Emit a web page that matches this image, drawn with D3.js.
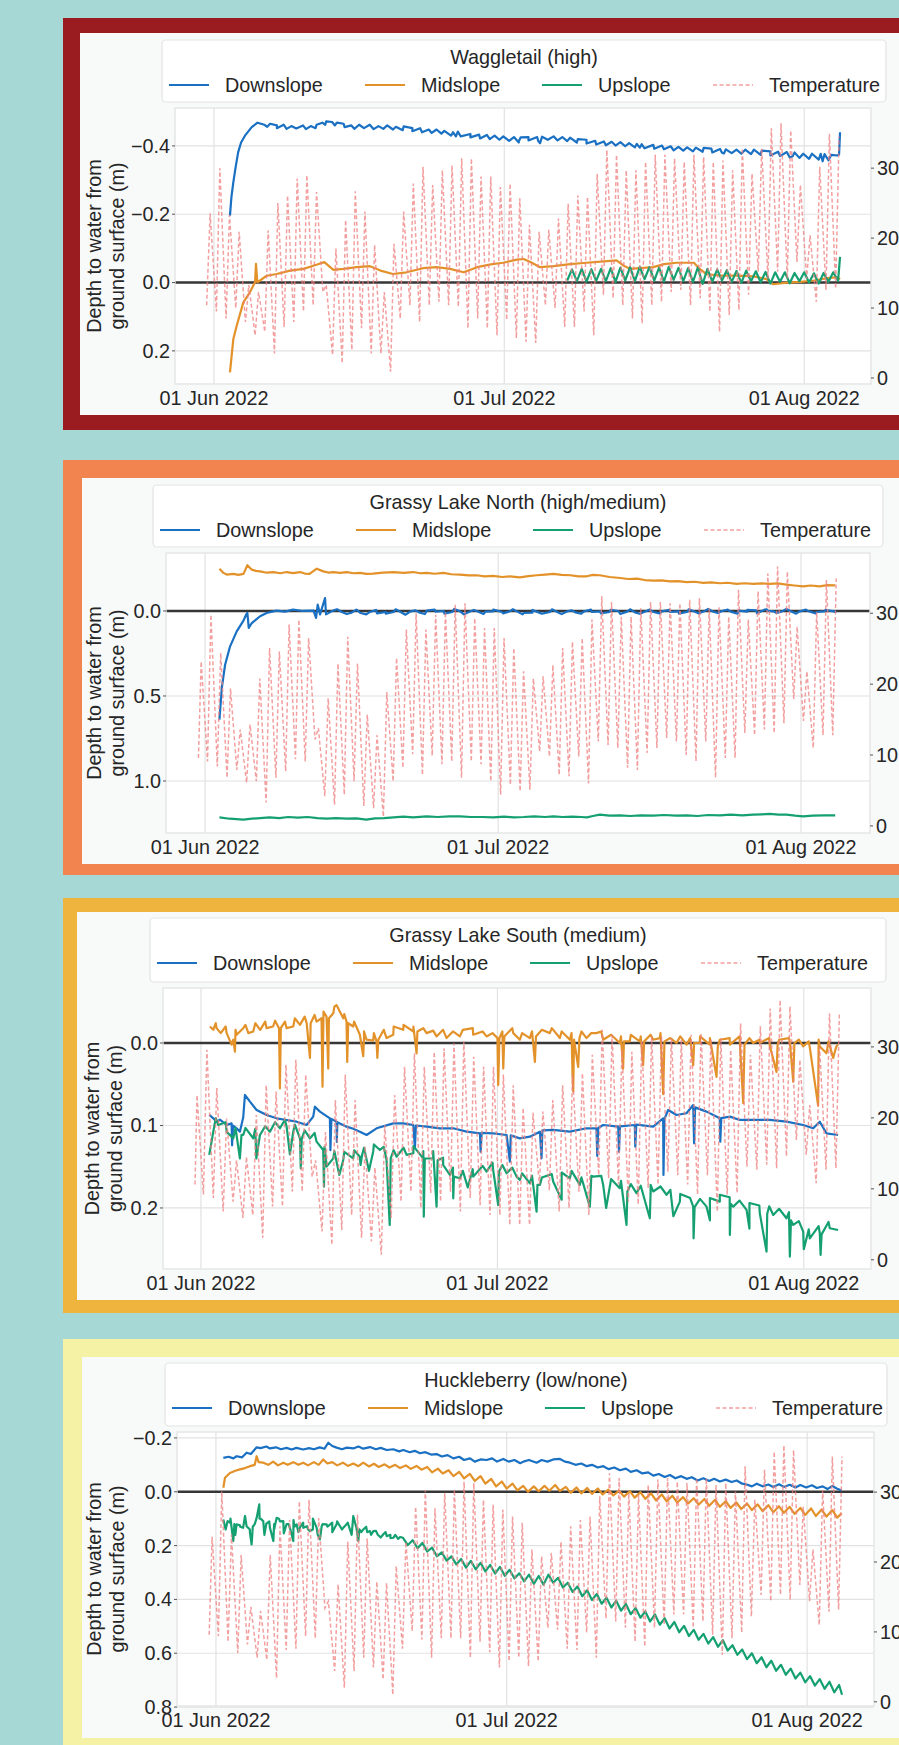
<!DOCTYPE html>
<html>
<head>
<meta charset="utf-8">
<script src="https://cdn.jsdelivr.net/npm/d3@7"></script>
<style>
  html, body { margin: 0; padding: 0; background: #a6d9d5; }
  svg { display: block; font-family: "Liberation Sans", Arial, sans-serif; }
</style>
</head>
<body>
<div id="chart"></div>
<script>
// ---- labels / ticks
var siteTitles = ["Waggletail (high)", "Grassy Lake North (high/medium)",
    "Grassy Lake South (medium)", "Huckleberry (low/none)"];
var seriesNames = ["Downslope", "Midslope", "Upslope", "Temperature"];
var seriesColors = ["#1a70c2", "#e3922a", "#15a072", "#ef7f7f"];
var xTickDates = ["2022-06-01", "2022-07-01", "2022-08-01"];
var depthTicks = [[-0.4, -0.2, 0.0, 0.2], [0.0, 0.5, 1.0], [0.0, 0.1, 0.2], [-0.2, 0.0, 0.2, 0.4, 0.6, 0.8]];
var tempTicks = [0, 10, 20, 30];
var yTitle = ["Depth to water from", "ground surface (m)"];

// ---- data: time = days after 01 Jun 2022, depth in m, temperature in deg C
// Waggletail
var wagDown = [[1.65,-0.196],[1.8,-0.25],[2.0,-0.294],[2.25,-0.34],[2.5,-0.382],[2.8,-0.41],[3.2,-0.43],[3.9,-0.455],[4.5,-0.468],[5.2,-0.462],[5.8,-0.465],[6.5,-0.46],[7.2,-0.462],[8.0,-0.458],[9.2,-0.46],[10.0,-0.458],[10.6,-0.462],[11.2,-0.468],[11.6,-0.472],[12.2,-0.47],[12.7,-0.468],[13.4,-0.465],[14.2,-0.46],[15.0,-0.462],[16.1,-0.462],[17.0,-0.458],[17.9,-0.46],[18.8,-0.456],[19.6,-0.457],[20.5,-0.452],[21.3,-0.452],[22.2,-0.448],[23.0,-0.448],[23.8,-0.444],[24.7,-0.44],[25.0,-0.428],[25.2,-0.442],[26.5,-0.435],[27.4,-0.433],[28.2,-0.432],[29.0,-0.43],[29.9,-0.428],[31.0,-0.426],[31.5,-0.41],[31.7,-0.425],[32.5,-0.426],[33.4,-0.426],[33.7,-0.408],[33.9,-0.427],[35.1,-0.428],[36.0,-0.426],[36.8,-0.424],[37.6,-0.42],[38.5,-0.418],[39.4,-0.415],[40.3,-0.413],[41.1,-0.412],[42.0,-0.411],[42.9,-0.408],[43.7,-0.406],[44.0,-0.395],[44.2,-0.405],[45.4,-0.403],[46.3,-0.401],[47.2,-0.399],[48.0,-0.397],[48.9,-0.396],[49.8,-0.395],[50.6,-0.394],[51.4,-0.392],[52.3,-0.391],[52.7,-0.378],[52.9,-0.39],[54.0,-0.389],[54.9,-0.389],[55.8,-0.389],[56.6,-0.386],[57.5,-0.384],[58.3,-0.383],[59.2,-0.382],[59.8,-0.37],[60.0,-0.381],[60.9,-0.377],[61.8,-0.377],[62.7,-0.377],[62.9,-0.355],[63.1,-0.376],[63.8,-0.374],[64.4,-0.372],[64.6,-0.375],[64.7,-0.44]];
var wagDownDips = [-0.456,-0.452,-0.45,-0.451,-0.449,-0.452,-0.462,-0.46,-0.455,-0.45,-0.452,-0.449,-0.45,-0.448,-0.446,-0.443,-0.44,-0.438,-0.436,-0.43,-0.428,-0.425,-0.422,-0.42,-0.418,-0.415,-0.414,-0.416,-0.415,-0.418,-0.416,-0.414,-0.41,-0.407,-0.404,-0.402,-0.401,-0.399,-0.396,-0.393,-0.392,-0.39,-0.387,-0.386,-0.384,-0.383,-0.381,-0.38,-0.379,-0.377,-0.376,-0.374,-0.372,-0.37,-0.366,-0.365,-0.362,-0.36,-0.358];
var wagMid = [[1.65,0.263],[2.0,0.165],[2.34,0.127],[3.03,0.058],[3.72,0.028],[4.24,-0.001],[4.34,-0.055],[4.48,-0.001],[4.76,-0.006],[5.45,-0.02],[6.48,-0.025],[7.86,-0.035],[9.24,-0.04],[10.6,-0.052],[11.4,-0.06],[12.34,-0.037],[13.37,-0.04],[14.75,-0.045],[16.13,-0.048],[17.2,-0.035],[18.5,-0.025],[19.9,-0.03],[21.6,-0.042],[23.0,-0.045],[24.4,-0.04],[25.8,-0.03],[27.2,-0.045],[28.6,-0.053],[29.9,-0.058],[31.3,-0.067],[32.0,-0.069],[32.7,-0.06],[33.7,-0.045],[35.1,-0.048],[36.8,-0.054],[38.5,-0.058],[40.3,-0.062],[41.6,-0.065],[42.3,-0.05],[43.0,-0.04],[44.0,-0.042],[45.4,-0.045],[46.5,-0.054],[47.8,-0.058],[49.6,-0.058],[50.2,-0.04],[50.9,-0.025],[52.3,-0.02],[54.0,-0.02],[55.8,-0.018],[57.1,-0.01],[57.8,0.005],[59.2,0.0],[60.6,-0.002],[62.0,-0.006],[63.4,-0.013],[64.4,-0.016],[64.7,-0.01]];
var wagUpDip = [-0.006,-0.004,-0.003,-0.005,-0.004,-0.002,-0.006,-0.004,-0.01,-0.006,-0.003,-0.008,-0.004,-0.002,0.004,-0.003,-0.006,-0.002,0.001,-0.004,-0.001,0.003,-0.002,0.002,-0.004,0.0,0.003,-0.002,-0.005];
var wagUpRise = [-0.038,-0.04,-0.039,-0.04,-0.042,-0.044,-0.045,-0.046,-0.045,-0.044,-0.046,-0.043,-0.042,-0.044,-0.04,-0.038,-0.036,-0.034,-0.035,-0.033,-0.031,-0.03,-0.03,-0.028,-0.03,-0.027,-0.028,-0.03];
var wagUpEnd = [[64.7,-0.075]];
var wagTempStart = [[-0.76,10.4]];
var wagTempMax = [23.5,30.0,23.3,20.9,13.3,12.3,21.1,25.0,26.1,28.5,29.0,26.6,13.3,18.5,22.6,26.7,23.8,19.0,12.3,19.2,23.8,27.8,30.2,27.6,29.7,30.4,31.4,31.4,28.8,28.8,27.3,27.8,25.7,21.9,20.9,21.2,22.8,24.9,26.1,25.9,29.2,32.6,31.9,29.7,29.7,30.9,31.9,31.9,31.4,30.9,31.9,31.6,30.9,31.1,29.7,32.8,29.2,32.8,35.7,36.4,35.4,27.6,20.4,30.2,34.9,34.5];
var wagTempMin = [9.5,8.5,10.0,8.0,6.1,6.6,3.5,7.3,8.0,9.5,10.4,12.3,3.3,2.1,4.0,7.1,3.5,3.5,0.9,8.5,10.4,8.0,10.4,10.9,10.4,10.2,7.1,8.5,7.1,6.1,8.3,5.7,5.2,5.0,10.4,10.0,7.3,7.3,9.5,6.1,11.9,11.4,10.4,8.5,7.8,10.4,10.9,12.3,12.6,10.4,11.4,9.5,6.6,9.0,9.7,11.9,15.2,14.2,15.2,14.2,16.6,14.2,10.9,12.6,12.8];

// Grassy Lake North
var glnDown = [[1.47,0.639],[1.71,0.453],[2.05,0.316],[2.56,0.208],[3.24,0.12],[3.93,0.057],[4.2,0.022],[4.33,0.012],[4.47,0.1],[4.78,0.071],[5.63,0.031],[6.3,0.012],[7.3,-0.002],[8.2,0.004],[9.0,-0.008],[10.0,0.0],[11.1,-0.002],[11.36,0.041],[11.53,-0.037],[11.77,0.02],[12.28,-0.076],[12.38,0.02],[13.1,-0.002],[14.0,0.006],[15.0,0.01],[15.9,0.012],[16.8,0.008],[17.6,0.014],[18.5,0.006],[19.3,0.006],[20.2,0.012],[21.0,0.004],[21.9,0.008],[22.7,-0.002],[23.6,0.004],[24.4,0.0],[25.3,0.006],[26.1,0.002],[27.0,0.006],[27.8,0.0],[28.7,0.004],[29.5,0.002],[30.4,0.006],[31.2,0.002],[32.6,0.012],[33.5,0.01],[34.4,0.014],[35.3,0.006],[36.2,0.01],[37.0,0.004],[37.9,0.008],[38.8,0.002],[39.6,0.006],[40.5,0.002],[41.4,0.006],[42.3,0.0],[43.2,0.004],[44.0,0.008],[45.0,0.004],[45.9,0.006],[46.8,0.002],[47.6,0.006],[48.5,0.002],[49.4,0.004],[50.2,0.006],[51.1,0.002],[52.0,0.004],[52.9,0.0],[53.8,0.004],[54.6,-0.002],[55.5,0.004],[56.4,-0.004],[57.3,-0.008],[57.6,0.0],[58.2,0.002],[59.0,0.004],[59.9,0.0],[60.8,0.004],[61.7,0.0],[62.6,0.006],[63.4,0.002],[64.5,0.004]];
var glnDownNoise = [-0.01,0.018,-0.008,0.02,-0.006,0.016,-0.01,0.022,-0.004,0.018,-0.008,0.016,-0.012,0.02,-0.006,0.018,-0.008,0.014,-0.01,0.02,-0.006,0.016,-0.01,0.018,-0.004,0.016,-0.008,0.014,-0.006,0.018,-0.01,0.016,-0.008,0.014,-0.006,0.016,-0.01,0.014,-0.012,0.012,-0.008,0.016,-0.006,0.014,-0.01,0.012,-0.012,0.016,-0.008,0.014,-0.006,0.012];
var glnMid = [[1.47,-0.249],[1.88,-0.224],[2.22,-0.214],[2.9,-0.218],[3.4,-0.212],[3.93,-0.218],[4.33,-0.269],[4.78,-0.243],[5.2,-0.236],[5.63,-0.233],[6.3,-0.225],[7.0,-0.228],[7.7,-0.222],[8.36,-0.229],[9.0,-0.223],[9.72,-0.229],[10.2,-0.22],[10.7,-0.218],[11.43,-0.249],[12.1,-0.233],[12.6,-0.226],[13.13,-0.229],[13.8,-0.224],[14.5,-0.228],[15.2,-0.222],[15.87,-0.224],[16.5,-0.218],[17.2,-0.22],[18.2,-0.226],[19.3,-0.229],[20.3,-0.224],[21.3,-0.229],[22.0,-0.222],[22.7,-0.224],[23.5,-0.219],[24.4,-0.224],[25.2,-0.216],[26.1,-0.214],[27.0,-0.209],[27.8,-0.21],[28.6,-0.204],[29.5,-0.206],[30.4,-0.2],[31.2,-0.204],[32.2,-0.198],[33.1,-0.205],[33.95,-0.21],[34.8,-0.214],[35.65,-0.218],[36.5,-0.212],[37.4,-0.21],[38.2,-0.204],[39.07,-0.204],[39.7,-0.212],[40.4,-0.21],[41.4,-0.2],[42.5,-0.194],[43.3,-0.188],[44.2,-0.19],[45.0,-0.182],[45.9,-0.178],[46.7,-0.18],[47.6,-0.174],[48.4,-0.176],[49.3,-0.17],[50.1,-0.172],[51.0,-0.165],[51.8,-0.168],[52.7,-0.163],[53.5,-0.166],[54.4,-0.159],[55.2,-0.163],[56.1,-0.159],[57.0,-0.162],[57.8,-0.159],[58.6,-0.162],[59.5,-0.155],[60.3,-0.15],[61.2,-0.145],[62.0,-0.15],[62.9,-0.145],[63.7,-0.152],[64.5,-0.15]];
var glnUp = [[1.47,1.214],[2.5,1.222],[3.93,1.227],[4.8,1.222],[5.63,1.218],[6.6,1.214],[7.6,1.218],[8.5,1.212],[9.5,1.216],[10.5,1.212],[11.5,1.218],[12.45,1.222],[13.4,1.218],[14.5,1.222],[15.5,1.22],[16.5,1.227],[17.4,1.22],[18.3,1.218],[19.3,1.214],[20.3,1.21],[21.3,1.214],[22.7,1.208],[23.8,1.212],[25.0,1.208],[26.1,1.208],[27.2,1.212],[28.4,1.212],[29.5,1.214],[30.6,1.21],[31.6,1.214],[32.6,1.212],[33.7,1.208],[34.8,1.212],[35.65,1.208],[36.6,1.212],[37.6,1.21],[38.5,1.212],[39.07,1.214],[39.7,1.206],[40.4,1.198],[41.4,1.204],[42.5,1.202],[43.5,1.206],[44.6,1.202],[45.9,1.204],[47.0,1.2],[48.2,1.204],[49.3,1.202],[50.4,1.206],[51.5,1.2],[52.7,1.202],[53.8,1.198],[55.0,1.202],[56.1,1.198],[57.0,1.196],[57.8,1.194],[58.7,1.198],[59.5,1.198],[60.4,1.204],[61.2,1.208],[62.2,1.204],[63.3,1.202],[64.5,1.202]];
var glnTempStart = [[-0.68,9.6]];
var glnTempMax = [23.2,29.8,24.4,19.4,13.6,14.3,20.8,25.1,24.6,28.4,29.1,26.5,13.8,18.0,22.9,26.7,22.9,15.7,12.8,18.9,23.7,27.7,30.0,27.7,29.8,30.2,31.2,31.4,29.3,27.9,27.9,26.5,25.1,21.8,20.8,21.1,22.7,25.1,26.0,26.5,29.1,32.4,31.6,29.5,29.5,30.7,31.6,31.6,31.4,31.4,31.9,32.1,30.7,30.9,29.5,33.3,29.1,33.1,35.6,36.6,35.9,28.1,21.8,30.2,34.7,34.9];
var glnTempMin = [9.1,8.4,6.8,7.9,6.1,6.3,3.3,6.8,7.7,9.4,9.1,12.2,4.2,3.0,4.4,6.3,2.8,2.5,1.3,6.3,8.2,10.1,7.2,9.9,8.7,9.1,6.8,9.1,8.7,6.3,4.4,5.8,4.9,5.1,10.5,9.8,7.2,7.0,9.8,6.0,11.9,11.4,11.0,8.2,7.9,10.3,11.0,12.4,11.9,10.0,9.1,11.9,6.8,9.6,9.6,13.1,12.8,13.6,13.1,14.5,17.9,14.8,11.0,12.8,12.8];

// Grassy Lake South
var glsDown = [[0.84,0.087],[1.25,0.0913],[1.58,0.0954],[1.92,0.093],[2.6,0.0994],[3.1,0.0974],[3.15,0.124],[3.25,0.1],[3.61,0.1034],[3.94,0.1075],[4.28,0.09],[4.45,0.063],[4.96,0.0711],[5.63,0.0812],[6.64,0.0873],[7.65,0.0913],[8.67,0.0933],[9.68,0.0954],[10.69,0.0994],[11.36,0.0893],[11.53,0.0772],[12.04,0.0832],[13.05,0.0913],[13.1,0.13],[13.2,0.092],[13.72,0.0954],[13.75,0.12],[13.8,0.096],[14.73,0.1014],[15.41,0.104],[16.08,0.1075],[16.76,0.1115],[17.77,0.1034],[19.46,0.0974],[20.47,0.0974],[21.49,0.0994],[21.65,0.1277],[21.75,0.1],[22.83,0.1014],[24.18,0.1034],[25.53,0.1034],[26.88,0.1075],[28.23,0.1095],[28.3,0.1317],[28.4,0.109],[29.57,0.1095],[30.93,0.1115],[31.26,0.1438],[31.35,0.112],[32.27,0.1156],[33.28,0.1136],[34.3,0.1075],[34.46,0.1398],[34.55,0.106],[35.64,0.1054],[37.33,0.1075],[39.01,0.1034],[40.02,0.1034],[40.1,0.137],[40.2,0.103],[40.7,0.0994],[42.22,0.1014],[42.3,0.1317],[42.4,0.101],[43.9,0.0994],[43.95,0.1256],[44.05,0.099],[45.76,0.1014],[46.77,0.0913],[46.8,0.16],[46.9,0.092],[47.28,0.0812],[48.12,0.0873],[49.13,0.0852],[49.81,0.0752],[49.9,0.1216],[50.0,0.078],[51.16,0.0832],[52.5,0.0913],[52.55,0.1196],[52.65,0.091],[53.52,0.0893],[54.53,0.0933],[55.88,0.0933],[57.57,0.0933],[59.25,0.0954],[60.94,0.0994],[61.95,0.1034],[62.62,0.0954],[63.29,0.1095],[64.47,0.1115]];
var glsMid = [[0.91,-0.02],[1.25,-0.016],[1.58,-0.018],[2.0,-0.012],[2.6,-0.012],[3.1,0.002],[3.27,-0.004],[3.44,0.0105],[3.61,-0.01],[4.28,-0.018],[4.8,-0.012],[5.29,-0.014],[6.0,-0.016],[6.64,-0.018],[7.3,-0.02],[7.9,-0.018],[7.99,0.055],[8.08,-0.018],[8.67,-0.018],[9.34,-0.02],[10.02,-0.022],[10.7,-0.024],[11.03,0.018],[11.1,-0.024],[11.7,-0.026],[12.2,-0.03],[12.3,0.053],[12.4,-0.038],[12.71,-0.032],[12.88,0.031],[12.95,-0.03],[13.39,-0.036],[13.72,-0.046],[14.06,-0.038],[14.4,-0.03],[14.73,-0.026],[14.8,0.023],[14.9,-0.024],[15.41,-0.02],[16.08,-0.01],[16.42,0.016],[16.5,-0.006],[16.76,-0.004],[17.43,-0.003],[17.77,-0.002],[17.85,0.018],[17.95,-0.004],[18.78,-0.006],[19.46,-0.01],[20.47,-0.016],[21.5,-0.014],[21.82,0.0125],[21.9,-0.014],[22.83,-0.012],[23.84,-0.008],[24.85,-0.006],[26.2,-0.008],[27.55,-0.01],[28.9,-0.008],[30.0,-0.006],[30.08,0.051],[30.2,-0.006],[30.59,0.031],[30.7,-0.008],[31.6,-0.012],[32.27,-0.004],[33.28,-0.006],[33.79,0.023],[33.9,-0.008],[35.3,-0.012],[36.32,-0.006],[37.33,-0.004],[37.6,0.039],[37.67,0.059],[37.75,-0.004],[38.17,0.029],[38.3,-0.006],[39.01,-0.006],[40.02,-0.012],[40.7,-0.004],[42.38,0.0],[42.72,0.031],[42.8,-0.002],[43.39,-0.002],[44.41,-0.002],[44.74,0.027],[44.85,-0.002],[45.76,-0.004],[46.43,-0.006],[46.77,0.062],[46.9,-0.002],[48.12,0.0],[49.13,0.002],[49.81,0.027],[49.9,0.0],[50.48,0.0],[51.49,0.002],[52.17,0.041],[52.3,0.004],[53.52,0.002],[54.53,0.0],[54.87,0.073],[55.0,0.002],[55.88,0.0],[56.55,0.0],[57.57,0.004],[58.24,0.035],[58.35,0.002],[59.6,0.0],[59.93,0.047],[60.05,0.0],[60.94,0.004],[61.61,0.0056],[62.45,0.076],[62.6,0.004],[63.29,0.0125],[63.97,0.018],[64.3,0.004],[64.47,0.002]];
var glsMidTop = [-0.024,-0.02,-0.016,-0.022,-0.024,-0.026,-0.027,-0.026,-0.03,-0.032,-0.034,-0.036,-0.044,-0.035,-0.026,-0.014,-0.012,-0.016,-0.02,-0.022,-0.02,-0.018,-0.015,-0.016,-0.014,-0.016,-0.018,-0.014,-0.012,-0.014,-0.018,-0.012,-0.014,-0.016,-0.018,-0.014,-0.012,-0.014,-0.012,-0.014,-0.01,-0.008,-0.01,-0.008,-0.01,-0.012,-0.006,-0.008,-0.006,-0.008,-0.006,-0.004,-0.006,-0.008,-0.006,-0.004,-0.006,-0.004,-0.006,-0.004,-0.002,-0.004,-0.002];
var glsUp = [[0.84,0.1357],[1.25,0.1075],[1.75,0.0994],[2.6,0.1075],[3.27,0.1156],[3.94,0.1398],[4.1,0.1115],[4.28,0.1115],[5.29,0.1156],[5.6,0.14],[5.97,0.1115],[6.98,0.1075],[7.99,0.1034],[8.67,0.1014],[9.0,0.135],[9.34,0.1075],[10.02,0.1156],[10.1,0.1519],[10.2,0.116],[11.03,0.1156],[11.7,0.1196],[12.37,0.1297],[12.45,0.1741],[12.6,0.135],[12.71,0.1499],[13.39,0.1398],[14.0,0.16],[14.4,0.1418],[15.41,0.1398],[16.08,0.1378],[16.15,0.1479],[16.3,0.136],[17.0,0.155],[17.43,0.1317],[18.11,0.1297],[18.78,0.1418],[19.1,0.2206],[19.2,0.14],[19.8,0.1378],[20.81,0.1357],[21.49,0.1337],[22.49,0.1398],[22.55,0.2105],[22.65,0.14],[23.5,0.1398],[23.84,0.1984],[23.95,0.142],[24.51,0.1479],[25.19,0.16],[25.53,0.1883],[25.6,0.162],[26.2,0.164],[27.0,0.175],[27.55,0.162],[28.9,0.156],[29.57,0.1539],[30.08,0.1964],[30.15,0.156],[30.93,0.158],[31.94,0.162],[32.27,0.1661],[33.28,0.17],[33.96,0.2044],[34.05,0.172],[34.3,0.172],[35.64,0.168],[36.5,0.19],[37.33,0.164],[38.34,0.172],[39.35,0.1984],[39.45,0.175],[39.69,0.162],[40.7,0.172],[41.0,0.2],[42.38,0.176],[43.06,0.2206],[43.15,0.18],[44.07,0.182],[45.42,0.2125],[45.5,0.181],[45.76,0.18],[47.11,0.184],[47.8,0.21],[48.46,0.1923],[49.81,0.1984],[49.85,0.2368],[49.95,0.199],[51.16,0.1984],[51.5,0.215],[52.5,0.1923],[53.52,0.2327],[53.6,0.195],[53.86,0.1984],[55.21,0.2024],[55.5,0.225],[56.55,0.2065],[57.23,0.2529],[57.3,0.207],[57.91,0.2085],[59.25,0.2125],[59.59,0.259],[59.7,0.215],[59.93,0.2206],[60.94,0.2287],[61.0,0.25],[61.61,0.2368],[62.62,0.2307],[62.7,0.257],[62.8,0.232],[63.63,0.2246],[64.47,0.2267]];
var glsUpTop = [0.091,0.096,0.103,0.103,0.104,0.101,0.096,0.093,0.099,0.106,0.109,0.126,0.131,0.132,0.13,0.127,0.123,0.126,0.13,0.127,0.125,0.131,0.131,0.139,0.151,0.155,0.153,0.149,0.145,0.148,0.151,0.158,0.161,0.163,0.159,0.157,0.155,0.163,0.161,0.161,0.165,0.167,0.171,0.173,0.172,0.174,0.178,0.183,0.188,0.189,0.188,0.184,0.187,0.191,0.194,0.197,0.198,0.201,0.205,0.216,0.226,0.222,0.217];
var glsTempStart = [[-0.6,10.6]];
var glsTempMax = [23.2,29.6,24.2,19.9,14.0,14.5,20.4,24.6,23.7,27.5,28.2,26.1,14.0,18.0,22.5,26.1,22.5,16.0,13.0,19.0,23.2,27.2,29.1,27.2,29.3,29.8,30.5,30.8,28.6,27.2,27.2,26.1,24.6,21.4,20.7,20.9,22.5,24.6,26.1,26.3,28.9,32.4,31.7,29.6,29.3,30.8,31.5,31.5,31.2,31.0,31.7,31.9,31.0,31.2,29.6,33.3,28.9,32.9,35.4,36.6,35.7,28.2,21.8,30.0,34.7,34.7];
var glsTempMin = [9.2,8.7,6.8,8.2,5.9,6.3,3.1,7.5,7.5,9.6,9.6,11.7,4.0,2.1,4.2,6.3,3.1,2.6,0.7,5.9,8.2,9.6,7.3,9.4,8.2,9.6,6.8,8.7,7.7,6.3,6.3,4.9,4.9,4.9,10.6,9.8,6.8,7.3,9.6,6.3,11.9,11.5,10.6,8.2,7.8,10.1,10.6,12.4,11.9,10.6,9.2,11.9,6.8,9.2,9.4,13.1,12.7,13.4,12.9,14.6,16.9,14.8,10.8,12.7,12.9];

// Huckleberry
var hkDown = [[0.76,-0.126],[1.3,-0.13],[1.8,-0.124],[2.13,-0.132],[2.7,-0.128],[3.16,-0.145],[3.6,-0.14],[4.2,-0.165],[4.6,-0.162],[5.2,-0.168],[5.57,-0.161],[6.2,-0.165],[6.7,-0.158],[7.29,-0.163],[7.8,-0.157],[8.3,-0.163],[9.01,-0.157],[9.6,-0.162],[10.1,-0.158],[10.7,-0.165],[11.2,-0.16],[11.59,-0.182],[12.0,-0.17],[12.45,-0.164],[13.0,-0.158],[13.5,-0.164],[14.17,-0.161],[14.7,-0.168],[15.2,-0.16],[15.89,-0.166],[16.5,-0.158],[17.0,-0.163],[17.62,-0.155],[18.3,-0.158],[18.9,-0.15],[19.33,-0.155],[20.0,-0.147],[20.5,-0.152],[21.06,-0.143],[21.6,-0.147],[22.2,-0.138],[22.77,-0.14],[23.3,-0.131],[23.9,-0.136],[24.5,-0.124],[25.1,-0.13],[25.6,-0.118],[26.22,-0.124],[26.7,-0.112],[27.3,-0.12],[27.93,-0.118],[28.5,-0.124],[29.0,-0.112],[29.65,-0.122],[30.2,-0.112],[30.8,-0.118],[31.4,-0.106],[31.72,-0.112],[32.3,-0.118],[33.09,-0.108],[33.6,-0.118],[34.2,-0.112],[34.81,-0.12],[35.5,-0.122],[36.0,-0.112],[36.53,-0.108],[37.1,-0.1],[37.7,-0.105],[38.25,-0.095],[38.8,-0.1],[39.4,-0.09],[39.97,-0.095],[40.5,-0.084],[41.1,-0.09],[41.69,-0.08],[42.3,-0.086],[42.8,-0.074],[43.41,-0.08],[44.0,-0.068],[44.6,-0.072],[45.13,-0.06],[45.7,-0.066],[46.3,-0.055],[46.85,-0.062],[47.4,-0.05],[48.0,-0.058],[48.57,-0.048],[49.1,-0.054],[49.7,-0.042],[50.29,-0.05],[50.9,-0.04],[51.4,-0.048],[52.0,-0.038],[52.6,-0.045],[53.2,-0.036],[53.73,-0.042],[54.3,-0.03],[54.76,-0.027],[55.3,-0.02],[55.8,-0.03],[56.4,-0.02],[57.0,-0.027],[57.5,-0.018],[58.1,-0.028],[58.6,-0.018],[59.2,-0.026],[59.8,-0.016],[60.3,-0.025],[60.9,-0.016],[61.5,-0.024],[62.0,-0.014],[62.6,-0.02],[63.1,-0.01],[63.6,-0.022],[64.05,-0.012],[64.56,-0.005]];
var hkMid = [[0.76,-0.015],[0.93,-0.052],[1.44,-0.07],[2.0,-0.078],[2.47,-0.083],[3.0,-0.088],[3.51,-0.095],[4.0,-0.1],[4.2,-0.132],[4.4,-0.11],[4.88,-0.108],[5.4,-0.1],[5.9,-0.112],[6.4,-0.098],[6.95,-0.108],[7.4,-0.1],[7.98,-0.11],[8.5,-0.1],[9.0,-0.108],[9.5,-0.098],[10.1,-0.11],[10.6,-0.1],[11.07,-0.12],[11.5,-0.105],[12.0,-0.11],[12.5,-0.098],[13.1,-0.108],[13.6,-0.096],[14.17,-0.105],[14.7,-0.095],[15.2,-0.108],[15.8,-0.094],[16.3,-0.104],[16.8,-0.092],[17.4,-0.102],[17.9,-0.09],[18.5,-0.1],[19.0,-0.088],[19.6,-0.098],[20.1,-0.085],[20.7,-0.096],[21.2,-0.082],[21.8,-0.092],[22.3,-0.072],[22.9,-0.086],[23.4,-0.068],[24.0,-0.08],[24.5,-0.058],[25.1,-0.074],[25.6,-0.05],[26.2,-0.066],[26.7,-0.04],[27.3,-0.058],[27.8,-0.03],[28.4,-0.048],[28.9,-0.02],[29.5,-0.038],[30.0,-0.012],[30.6,-0.03],[31.1,-0.005],[31.7,-0.022],[32.2,0.0],[32.8,-0.02],[33.3,-0.002],[33.9,-0.022],[34.4,-0.004],[35.0,-0.025],[35.5,-0.003],[36.1,-0.018],[36.6,0.004],[37.2,-0.016],[37.7,0.006],[38.3,-0.014],[38.8,0.008],[39.4,-0.012],[39.9,0.01],[40.5,-0.008],[41.0,0.014],[41.6,-0.004],[42.1,0.018],[42.7,-0.002],[43.2,0.022],[43.8,0.002],[44.3,0.026],[44.9,0.006],[45.4,0.032],[46.0,0.01],[46.5,0.036],[47.1,0.015],[47.6,0.04],[48.2,0.02],[48.7,0.044],[49.3,0.024],[49.8,0.048],[50.4,0.027],[50.9,0.052],[51.5,0.03],[52.0,0.056],[52.6,0.035],[53.1,0.06],[53.7,0.04],[54.2,0.064],[54.8,0.044],[55.3,0.068],[55.9,0.047],[56.4,0.072],[57.0,0.05],[57.5,0.076],[58.1,0.054],[58.6,0.078],[59.2,0.056],[59.7,0.082],[60.3,0.06],[60.8,0.086],[61.4,0.062],[61.9,0.09],[62.5,0.066],[63.0,0.092],[63.6,0.068],[64.1,0.096],[64.56,0.08]];
var hkUpEarly = [[0.76,0.103],[1.2,0.109],[1.44,0.115],[1.79,0.183],[1.9,0.12],[2.13,0.121],[2.47,0.125],[2.8,0.134],[3.16,0.128],[3.5,0.14],[3.68,0.196],[3.8,0.13],[4.2,0.097],[4.47,0.047],[4.6,0.1],[4.88,0.109],[5.2,0.118],[5.57,0.134],[5.92,0.183],[6.0,0.12],[6.26,0.097],[6.6,0.11],[6.95,0.109],[7.29,0.12],[7.63,0.134],[7.98,0.183],[8.1,0.13],[8.32,0.121],[8.7,0.13],[9.01,0.134],[9.4,0.128],[9.7,0.146],[10.0,0.14],[10.39,0.134],[10.73,0.177],[10.9,0.13],[11.42,0.121],[12.0,0.115],[12.45,0.121],[12.8,0.128],[13.14,0.134],[13.6,0.115],[14.17,0.09],[14.69,0.183],[14.8,0.14],[15.2,0.14],[15.6,0.15],[15.89,0.146],[16.24,0.146],[16.7,0.16],[17.27,0.158],[17.62,0.165],[18.0,0.16],[18.3,0.171],[18.8,0.175],[19.0,0.168]];
var hkUpNoise = [0.14,0.1,0.16,0.13,0.09,0.15,0.12,0.1,0.16,0.11,0.14,0.1,0.155,0.12,0.105,0.15,0.115,0.14,0.1,0.16,0.12,0.13,0.15,0.11,0.14,0.12,0.16,0.135,0.15,0.13,0.16,0.145,0.17,0.15,0.172,0.16];
var hkUpShallow = [0.171,0.18,0.19,0.208,0.225,0.24,0.25,0.257,0.264,0.272,0.279,0.29,0.303,0.308,0.313,0.308,0.32,0.338,0.352,0.366,0.38,0.394,0.405,0.417,0.432,0.445,0.456,0.47,0.484,0.498,0.513,0.528,0.54,0.551,0.57,0.586,0.6,0.615,0.628,0.643,0.657,0.672,0.685,0.696,0.706,0.718];
var hkUpDeep = [0.198,0.21,0.222,0.24,0.256,0.27,0.282,0.288,0.296,0.304,0.312,0.322,0.333,0.342,0.345,0.338,0.356,0.372,0.388,0.402,0.416,0.43,0.442,0.455,0.468,0.482,0.494,0.508,0.522,0.536,0.55,0.564,0.576,0.59,0.606,0.622,0.637,0.652,0.665,0.68,0.694,0.708,0.72,0.732,0.745];
var hkUpEnd = [[64.6,0.754]];
var hkTempStart = [[-0.7,9.6]];
var hkTempMax = [23.6,30.1,23.9,21.0,13.6,13.0,21.0,25.1,26.0,28.7,28.9,26.3,14.4,16.8,22.9,26.8,23.4,17.2,17.0,19.4,22.9,27.9,30.3,27.7,29.9,30.3,31.5,31.3,28.9,28.2,27.5,26.5,25.6,21.8,20.8,21.3,22.9,25.1,26.0,26.5,29.4,32.7,32.0,29.9,29.6,31.0,31.8,32.0,31.5,31.3,32.0,32.0,31.0,31.3,30.1,33.7,28.9,33.2,35.8,36.7,36.0,27.9,21.8,30.3,35.1,35.1];
var hkTempMin = [9.4,8.6,7.0,8.2,6.3,6.0,3.4,7.4,7.6,9.4,9.1,13.4,4.4,2.0,4.4,6.3,4.9,3.2,1.0,7.6,10.1,8.9,6.3,9.1,9.1,9.1,6.3,8.6,7.1,4.9,5.8,6.3,5.1,5.8,10.6,10.3,7.6,7.4,9.9,6.3,11.9,11.5,10.6,8.6,7.9,10.6,11.0,12.5,12.5,10.6,11.5,9.6,6.7,9.1,9.9,12.2,15.3,14.4,15.3,14.6,16.7,14.4,11.0,12.9,13.2];

// ---- helpers
var day0 = Date.UTC(2022, 5, 1);
function toDate (t) { return new Date(day0 + t * 864e5); }
// readings taken every 'step' days, starting at 'start'
function every (start, step, vals) { return vals.map(function (v, i) { return [start + i * step, v]; }); }
function daily (start, vals) { return every(start, 1, vals); }
function merge () {
    var all = [];
    for (var i = 0; i < arguments.length; i++) all = all.concat(arguments[i]);
    return all.sort(function (a, b) { return a[0] - b[0]; });
}
function temps (first, maxs, mins) { return merge(first, daily(-0.4, maxs), daily(0.25, mins)); }

// ---- panel layout (frame, inner card, legend box, plot area)
var panels = [
    { title: siteTitles[0], frameColor: "#9a1c20", frame: [63, 18, 836, 412], inner: [80, 33, 819, 382],
      legend: [162, 40, 724, 62], plot: [175, 108, 696, 276], xDom: [-4.03, 67.9],
      yDom: [-0.511, 0.297], tDom: [-0.86, 38.6], yTicks: depthTicks[0], labelX: [101, 124],
      series: [merge(wagDown, daily(5.5, wagDownDips)), wagMid,
               merge(daily(36.5, wagUpDip), daily(37.0, wagUpRise), wagUpEnd),
               temps(wagTempStart, wagTempMax, wagTempMin)] },
    { title: siteTitles[1], frameColor: "#f1844f", frame: [63, 460, 836, 415], inner: [82, 478, 817, 386],
      legend: [153, 485, 730, 62], plot: [166, 553, 704, 280], xDom: [-4.0, 68.06],
      yDom: [-0.341, 1.306], tDom: [-1.0, 38.5], yTicks: depthTicks[1], labelX: [101, 124],
      series: [merge(glnDown, daily(13.5, glnDownNoise)), glnMid, glnUp,
               temps(glnTempStart, glnTempMax, glnTempMin)] },
    { title: siteTitles[2], frameColor: "#eeb43d", frame: [63, 898, 836, 415], inner: [77, 912, 822, 388],
      legend: [150, 918, 736, 64], plot: [163, 988, 708, 281], xDom: [-3.84, 67.8],
      yDom: [-0.0667, 0.274], tDom: [-1.3, 38.3], yTicks: depthTicks[2], labelX: [99, 122],
      series: [glsDown, merge(glsMid, daily(1.5, glsMidTop)), merge(glsUp, daily(1.5, glsUpTop)),
               temps(glsTempStart, glsTempMax, glsTempMin)] },
    { title: siteTitles[3], frameColor: "#f6f2a5", frame: [63, 1339, 836, 420], inner: [82, 1357, 817, 381],
      legend: [165, 1363, 722, 63], plot: [177, 1432, 697, 274], xDom: [-4.02, 67.9],
      yDom: [-0.222, 0.796], tDom: [-0.6, 38.6], yTicks: depthTicks[3], labelX: [101, 124],
      series: [hkDown, hkMid,
               merge(hkUpEarly, every(1.0, 0.5, hkUpNoise), daily(19.3, hkUpShallow), daily(19.8, hkUpDeep), hkUpEnd),
               temps(hkTempStart, hkTempMax, hkTempMin)] }
];

var FS = 19.8, TXT = "#262626";
var legendOffsets = [7, 203, 380, 551];
var parseDay = d3.utcParse("%Y-%m-%d");
var fmtDate = d3.utcFormat("%d %b %Y");
var fmtDepth = d3.format(".1f");

var svg = d3.select("#chart").append("svg")
    .attr("width", 899).attr("height", 1745);
svg.append("rect").attr("width", 899).attr("height", 1745).attr("fill", "#a6d9d5");

function rect (g, box, fill) {
    return g.append("rect").attr("x", box[0]).attr("y", box[1])
        .attr("width", box[2]).attr("height", box[3]).attr("fill", fill);
}

function drawPanel (p, idx) {
    var g = svg.append("g");
    rect(g, p.frame, p.frameColor);
    rect(g, p.inner, "#f8fafa");

    var px = p.plot[0], py = p.plot[1], pw = p.plot[2], ph = p.plot[3];
    var x = d3.scaleUtc().domain(p.xDom.map(toDate)).range([px, px + pw]);
    var y = d3.scaleLinear().domain(p.yDom).range([py, py + ph]);
    var yT = d3.scaleLinear().domain(p.tDom).range([py + ph, py]);

    rect(g, p.plot, "#ffffff");

    // grid
    var xt = xTickDates.map(parseDay);
    g.selectAll(".vg").data(xt).enter().append("line")
        .attr("x1", function (d) { return x(d); }).attr("x2", function (d) { return x(d); })
        .attr("y1", py).attr("y2", py + ph)
        .attr("stroke", "#e2e2e2").attr("stroke-width", 1.2);
    g.selectAll(".hg").data(p.yTicks.filter(function (v) { return v !== 0; })).enter().append("line")
        .attr("x1", px).attr("x2", px + pw)
        .attr("y1", function (d) { return y(d); }).attr("y2", function (d) { return y(d); })
        .attr("stroke", "#e2e2e2").attr("stroke-width", 1.2);

    // zero line
    g.append("line").attr("x1", px).attr("x2", px + pw)
        .attr("y1", y(0)).attr("y2", y(0))
        .attr("stroke", "#363636").attr("stroke-width", 2.4);

    svg.append("clipPath").attr("id", "clip" + idx).append("rect")
        .attr("x", px).attr("y", py).attr("width", pw).attr("height", ph);

    var lineDepth = d3.line()
        .x(function (d) { return x(toDate(d[0])); })
        .y(function (d) { return y(d[1]); });
    var lineTemp = d3.line()
        .x(function (d) { return x(toDate(d[0])); })
        .y(function (d) { return yT(d[1]); });

    var lines = g.append("g").attr("clip-path", "url(#clip" + idx + ")");
    for (var k = 0; k < 3; k++) {
        lines.append("path").datum(p.series[k])
            .attr("d", lineDepth)
            .attr("fill", "none")
            .attr("stroke", seriesColors[k])
            .attr("stroke-width", 2.2)
            .attr("stroke-linejoin", "round");
    }
    lines.append("path").datum(p.series[3])
        .attr("d", lineTemp)
        .attr("fill", "none")
        .attr("stroke", seriesColors[3])
        .attr("stroke-width", 1.5)
        .attr("stroke-dasharray", "4,2.5")
        .attr("opacity", 0.75);

    // border
    g.append("rect").attr("x", px).attr("y", py).attr("width", pw).attr("height", ph)
        .attr("fill", "none").attr("stroke", "#e4e4e4").attr("stroke-width", 1.4);

    // x tick labels
    g.selectAll(".xl").data(xt).enter().append("text")
        .attr("x", function (d) { return x(d); }).attr("y", py + ph + 21)
        .attr("text-anchor", "middle").attr("font-size", FS).attr("fill", TXT)
        .text(fmtDate);

    // left ticks
    g.selectAll(".yl").data(p.yTicks).enter().append("text")
        .attr("x", px - 5).attr("y", function (d) { return y(d); })
        .attr("dy", "0.35em").attr("text-anchor", "end")
        .attr("font-size", FS).attr("fill", TXT)
        .text(fmtDepth);
    g.selectAll(".ytk").data(p.yTicks).enter().append("line")
        .attr("x1", px - 3).attr("x2", px)
        .attr("y1", function (d) { return y(d); }).attr("y2", function (d) { return y(d); })
        .attr("stroke", "#555").attr("stroke-width", 1);

    // right (temperature) ticks
    g.selectAll(".tl").data(tempTicks).enter().append("text")
        .attr("x", px + pw + 6).attr("y", function (d) { return yT(d); })
        .attr("dy", "0.35em").attr("font-size", FS).attr("fill", TXT)
        .text(function (d) { return d; });
    g.selectAll(".ttk").data(tempTicks).enter().append("line")
        .attr("x1", px + pw).attr("x2", px + pw + 3)
        .attr("y1", function (d) { return yT(d); }).attr("y2", function (d) { return yT(d); })
        .attr("stroke", "#555").attr("stroke-width", 1);

    // y axis title (two lines)
    var cy = py + ph / 2;
    yTitle.forEach(function (s, j) {
        g.append("text")
            .attr("transform", "translate(" + p.labelX[j] + "," + cy + ") rotate(-90)")
            .attr("text-anchor", "middle").attr("font-size", FS).attr("fill", TXT)
            .text(s);
    });

    // legend
    var lx = p.legend[0], ly = p.legend[1], lw = p.legend[2], lh = p.legend[3];
    g.append("rect").attr("x", lx).attr("y", ly).attr("width", lw).attr("height", lh)
        .attr("rx", 4).attr("fill", "#ffffff").attr("stroke", "#e3e3e3").attr("stroke-width", 1.2);
    g.append("text").attr("x", lx + lw / 2).attr("y", ly + 24)
        .attr("text-anchor", "middle").attr("font-size", FS).attr("fill", TXT)
        .text(p.title);
    seriesNames.forEach(function (name, j) {
        var hx = lx + legendOffsets[j];
        g.append("line").attr("x1", hx).attr("x2", hx + 40)
            .attr("y1", ly + 45).attr("y2", ly + 45)
            .attr("stroke", seriesColors[j])
            .attr("stroke-width", j === 3 ? 1.5 : 2.2)
            .attr("stroke-dasharray", j === 3 ? "4,2.5" : null)
            .attr("opacity", j === 3 ? 0.75 : 1);
        g.append("text").attr("x", hx + 56).attr("y", ly + 52)
            .attr("font-size", FS).attr("fill", TXT).text(name);
    });
}

panels.forEach(drawPanel);
</script>
</body>
</html>
